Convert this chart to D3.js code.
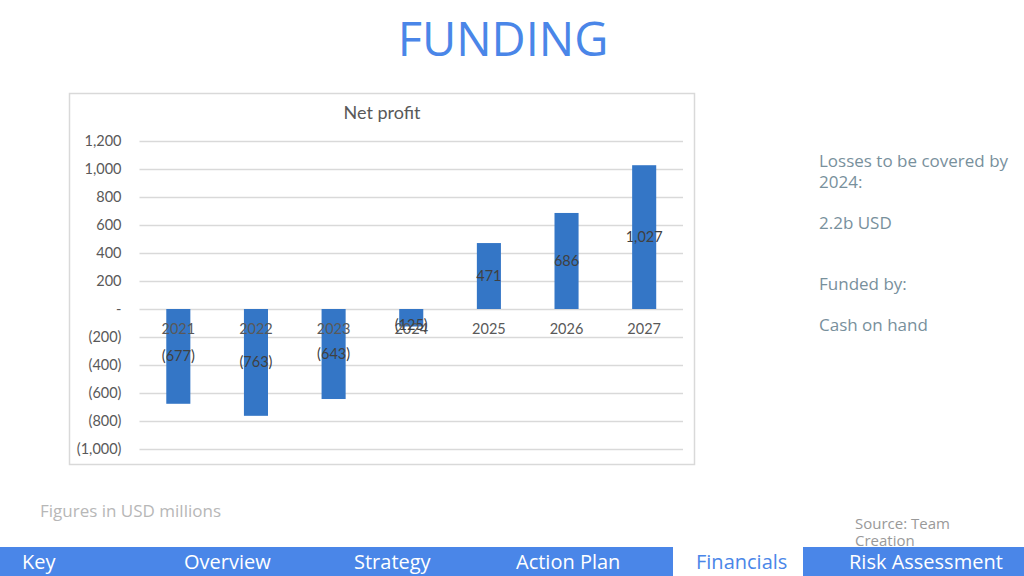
<!DOCTYPE html>
<html><head><meta charset="utf-8">
<script src="https://cdn.jsdelivr.net/npm/d3@7/dist/d3.min.js"></script>
<style>
html,body{margin:0;padding:0;background:#fff;}
svg{display:block;}
</style></head>
<body>
<svg id="c" width="1024" height="576"></svg>
<script>
const years = ["2021","2022","2023","2024","2025","2026","2027"];
const netProfit = [-677,-763,-643,-125,471,686,1027];
const yTicks = [-1000,-800,-600,-400,-200,0,200,400,600,800,1000,1200];
const navItems = ["Key","Overview","Strategy","Action Plan","Financials","Risk Assessment"];
const activeNav = "Financials";
const sideText = ["Losses to be covered by","2024:","","2.2b USD","","","Funded by:","","Cash on hand"];

const svg = d3.select("#c");
const slideFont = "'Open Sans', 'Noto Sans', sans-serif";
const chartFont = "Lato, 'Open Sans', sans-serif";

// slide title
svg.append("text").attr("x",503).attr("y",56).attr("text-anchor","middle")
  .attr("font-family",slideFont).attr("font-size",47).attr("fill","#4a86e8").text("FUNDING");

// chart frame
svg.append("rect").attr("x",69.5).attr("y",93.5).attr("width",625).attr("height",371)
  .attr("fill","#fff").attr("stroke","#d9d9d9").attr("stroke-width",1.5);
svg.append("text").attr("x",382).attr("y",119).attr("text-anchor","middle")
  .attr("font-family",chartFont).attr("font-size",18).attr("fill","#595959").text("Net profit");

const y = d3.scaleLinear().domain([-1000,1200]).range([449,141]);
const x = d3.scaleBand().domain(years).range([139.5,683]).paddingInner(0.69).paddingOuter(0.345);

const fmt = v => v===0 ? "-" : (v<0 ? "(" + d3.format(",")(-v) + ")" : d3.format(",")(v));

// gridlines
const yAxis = d3.axisLeft(y).tickValues(yTicks).tickSize(-(683-139.5)).tickFormat(fmt);
const gy = svg.append("g").attr("transform","translate(139.5,0)").call(yAxis);
gy.select(".domain").remove();
gy.selectAll(".tick line").attr("stroke","#d9d9d9").attr("stroke-width",1.3);
gy.selectAll(".tick text").attr("x",-18).attr("font-family",chartFont).attr("font-size",14.5).attr("fill","#595959");

// bars
svg.append("g").selectAll("rect").data(years).join("rect")
  .attr("x",d=>x(d)).attr("width",x.bandwidth())
  .attr("y",(d,i)=>y(Math.max(0,netProfit[i])))
  .attr("height",(d,i)=>Math.abs(y(netProfit[i])-y(0)))
  .attr("fill","#3476c6");

// category labels just below zero line
svg.append("g").selectAll("text").data(years).join("text")
  .attr("x",d=>x(d)+x.bandwidth()/2).attr("y",y(0)+25).attr("text-anchor","middle")
  .attr("font-family",chartFont).attr("font-size",14.5).attr("fill","#595959").text(d=>d);

// data labels centered in bars
svg.append("g").selectAll("text").data(years).join("text")
  .attr("x",d=>x(d)+x.bandwidth()/2)
  .attr("y",(d,i)=>{const m=(y(0)+y(netProfit[i]))/2; return Math.abs(y(netProfit[i])-y(0))<30 ? m+12 : m+5;})
  .attr("text-anchor","middle")
  .attr("font-family",chartFont).attr("font-size",14.5).attr("fill","#404040")
  .text((d,i)=>fmt(netProfit[i]));

// side text
let yy = 167;
sideText.forEach((t,i)=>{
  if (t) svg.append("text").attr("x",819).attr("y",yy).attr("font-family",slideFont)
    .attr("font-size",17).attr("fill","#78909c").text(t);
  yy += 20.5;
});

// footnotes
svg.append("text").attr("x",40).attr("y",517).attr("font-family",slideFont).attr("font-size",17)
  .attr("fill","#b7b7b7").text("Figures in USD millions");
svg.append("text").attr("x",855).attr("y",529).attr("font-family",slideFont).attr("font-size",15)
  .attr("fill","#999999").text("Source: Team");
svg.append("text").attr("x",855).attr("y",546).attr("font-family",slideFont).attr("font-size",15)
  .attr("fill","#999999").text("Creation");

// nav bar
svg.append("rect").attr("x",0).attr("y",547).attr("width",1024).attr("height",29).attr("fill","#4a86e8");
const navX = [22,184,354,516,696,849];
svg.append("rect").attr("x",673).attr("y",547).attr("width",130).attr("height",29).attr("fill","#fff");
svg.append("g").selectAll("text").data(navItems).join("text")
  .attr("x",(d,i)=>navX[i]).attr("y",569)
  .attr("font-family",slideFont).attr("font-size",20)
  .attr("fill",d=>d===activeNav?"#4a86e8":"#fff").text(d=>d);
</script>
</body></html>
